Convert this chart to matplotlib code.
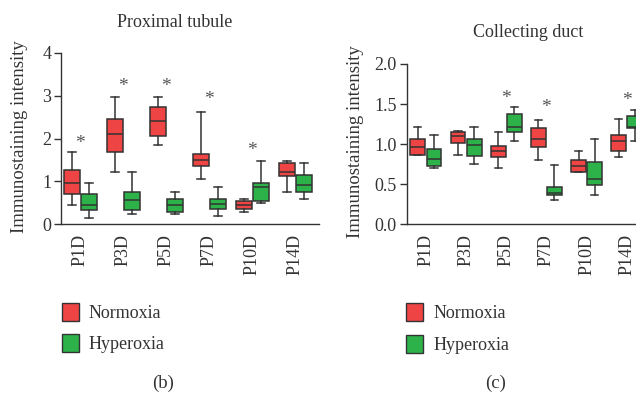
import matplotlib
matplotlib.use("Agg")
import matplotlib.pyplot as plt
from matplotlib.patches import Patch

plt.rcParams['font.family'] = ['Liberation Serif', 'DejaVu Serif']

# datos
dias = ['P1D', 'P3D', 'P5D', 'P7D', 'P10D', 'P14D']

# Proximal tubule
pt_norm_lo = [0.45, 1.22, 1.84, 1.06, 0.29, 0.76]
pt_norm_q1 = [0.70, 1.68, 2.06, 1.37, 0.35, 1.13]
pt_norm_med = [0.97, 2.10, 2.41, 1.49, 0.45, 1.23]
pt_norm_q3 = [1.27, 2.45, 2.73, 1.63, 0.54, 1.43]
pt_norm_hi = [1.68, 2.97, 2.97, 2.62, 0.60, 1.48]
pt_hyp_lo = [0.14, 0.25, 0.25, 0.19, 0.50, 0.60]
pt_hyp_q1 = [0.34, 0.34, 0.29, 0.35, 0.55, 0.75]
pt_hyp_med = [0.45, 0.56, 0.45, 0.48, 0.87, 0.91]
pt_hyp_q3 = [0.70, 0.75, 0.60, 0.60, 0.96, 1.16]
pt_hyp_hi = [0.96, 1.22, 0.75, 0.86, 1.48, 1.43]
pt_star_y = [1.88, 3.22, 3.22, 2.91, 1.71, None]

# Collecting duct
cd_norm_lo = [0.86, 0.86, 0.70, 0.80, 0.65, 0.835]
cd_norm_q1 = [0.86, 1.01, 0.835, 0.965, 0.65, 0.91]
cd_norm_med = [0.97, 1.10, 0.91, 1.07, 0.73, 1.04]
cd_norm_q3 = [1.06, 1.15, 0.98, 1.20, 0.805, 1.12]
cd_norm_hi = [1.22, 1.17, 1.15, 1.30, 0.91, 1.32]
cd_hyp_lo = [0.70, 0.75, 1.04, 0.30, 0.365, 1.04]
cd_hyp_q1 = [0.73, 0.855, 1.15, 0.365, 0.49, 1.20]
cd_hyp_med = [0.81, 0.99, 1.22, 0.39, 0.57, 1.22]
cd_hyp_q3 = [0.94, 1.06, 1.38, 0.47, 0.78, 1.355]
cd_hyp_hi = [1.12, 1.22, 1.46, 0.74, 1.06, 1.43]
cd_star_y = [None, None, 1.57, 1.46, None, 1.54]

ROJO = '#EE4444'
VERDE = '#2DB24A'
BORDE = '#333333'
TEXTO = '#333333'

W, H = 636, 393


def stats(lo, q1, med, q3, hi):
    return [dict(whislo=a, q1=b, med=c, q3=d, whishi=e, fliers=[])
            for a, b, c, d, e in zip(lo, q1, med, q3, hi)]


def cajas(ax, st, pos, color):
    ax.bxp(st, positions=pos, widths=0.37, patch_artist=True, showfliers=False,
           boxprops=dict(facecolor=color, edgecolor=BORDE, linewidth=1.1),
           medianprops=dict(color=BORDE, linewidth=1.1),
           whiskerprops=dict(color=BORDE, linewidth=1.1),
           capprops=dict(color=BORDE, linewidth=1.1),
           capwidths=0.18, manage_ticks=False)


def panel(fig, rect, ylim, yticks, ylabels, norm, hyp, estrellas, xlim):
    ax = fig.add_axes(rect)
    x = list(range(len(dias)))
    cajas(ax, norm, [i - 0.2 for i in x], ROJO)
    cajas(ax, hyp, [i + 0.2 for i in x], VERDE)
    for i, y in zip(x, estrellas):
        if y is not None:
            ax.text(i, y, '*', ha='center', va='center', fontsize=14, color='#555555')
    ax.set_xlim(*xlim)
    ax.set_ylim(*ylim)
    ax.set_yticks(yticks)
    ax.set_yticklabels(ylabels)
    ax.set_xticks(x)
    ax.set_xticklabels(dias, rotation=90)
    for s in ['top', 'right']:
        ax.spines[s].set_visible(False)
    for s in ['left', 'bottom']:
        ax.spines[s].set_color(BORDE)
        ax.spines[s].set_linewidth(1.0)
    ax.tick_params(axis='y', direction='out', length=5, width=1, color=BORDE,
                   labelsize=13, labelcolor=TEXTO, pad=2)
    ax.tick_params(axis='x', length=0, labelsize=13, labelcolor=TEXTO, pad=7)
    return ax


def leyenda(fig, x, y):
    handles = [Patch(facecolor=ROJO, edgecolor=BORDE, linewidth=1.0, label='Normoxia'),
               Patch(facecolor=VERDE, edgecolor=BORDE, linewidth=1.0, label='Hyperoxia')]
    fig.legend(handles=handles, loc='upper left', bbox_to_anchor=(x / W, 1 - y / H),
               frameon=False, fontsize=13, handlelength=0.95, handleheight=1.15,
               handletextpad=0.55, labelspacing=0.68, borderpad=0, borderaxespad=0,
               labelcolor=TEXTO)


fig = plt.figure(figsize=(6.36, 3.93), dpi=100)

panel(fig, [61 / W, 1 - 224.3 / H, (319 - 61) / W, (224.3 - 52.7) / H],
      (0, 4), [0, 1, 2, 3, 4], ['0', '1', '2', '3', '4'],
      stats(pt_norm_lo, pt_norm_q1, pt_norm_med, pt_norm_q3, pt_norm_hi),
      stats(pt_hyp_lo, pt_hyp_q1, pt_hyp_med, pt_hyp_q3, pt_hyp_hi),
      pt_star_y, (-0.45, 5.55))

panel(fig, [406.7 / W, 1 - 224.3 / H, (636 - 406.7) / W, (224.3 - 64) / H],
      (0, 2), [0, 0.5, 1, 1.5, 2], ['0.0', '0.5', '1.0', '1.5', '2.0'],
      stats(cd_norm_lo, cd_norm_q1, cd_norm_med, cd_norm_q3, cd_norm_hi),
      stats(cd_hyp_lo, cd_hyp_q1, cd_hyp_med, cd_hyp_q3, cd_hyp_hi),
      cd_star_y, (-0.478, 5.23))

fig.text(175 / W, 1 - 26.7 / H, 'Proximal tubule', ha='center', va='baseline',
         fontsize=13, color=TEXTO)
fig.text(528 / W, 1 - 36.7 / H, 'Collecting duct', ha='center', va='baseline',
         fontsize=13, color=TEXTO)
fig.text(20 / W, 1 - 137 / H, 'Immunostaining intensity', rotation=90,
         ha='center', va='center', fontsize=13.5, color=TEXTO)
fig.text(355 / W, 1 - 142 / H, 'Immunostaining intensity', rotation=90,
         ha='center', va='center', fontsize=13.5, color=TEXTO)

leyenda(fig, 61.7, 302.7)
leyenda(fig, 406, 303.3)

fig.text(163 / W, 1 - 383 / H, '(b)', ha='center', va='center', fontsize=13.5, color=TEXTO)
fig.text(496 / W, 1 - 383 / H, '(c)', ha='center', va='center', fontsize=13.5, color=TEXTO)

fig.savefig('out.png', dpi=100)
